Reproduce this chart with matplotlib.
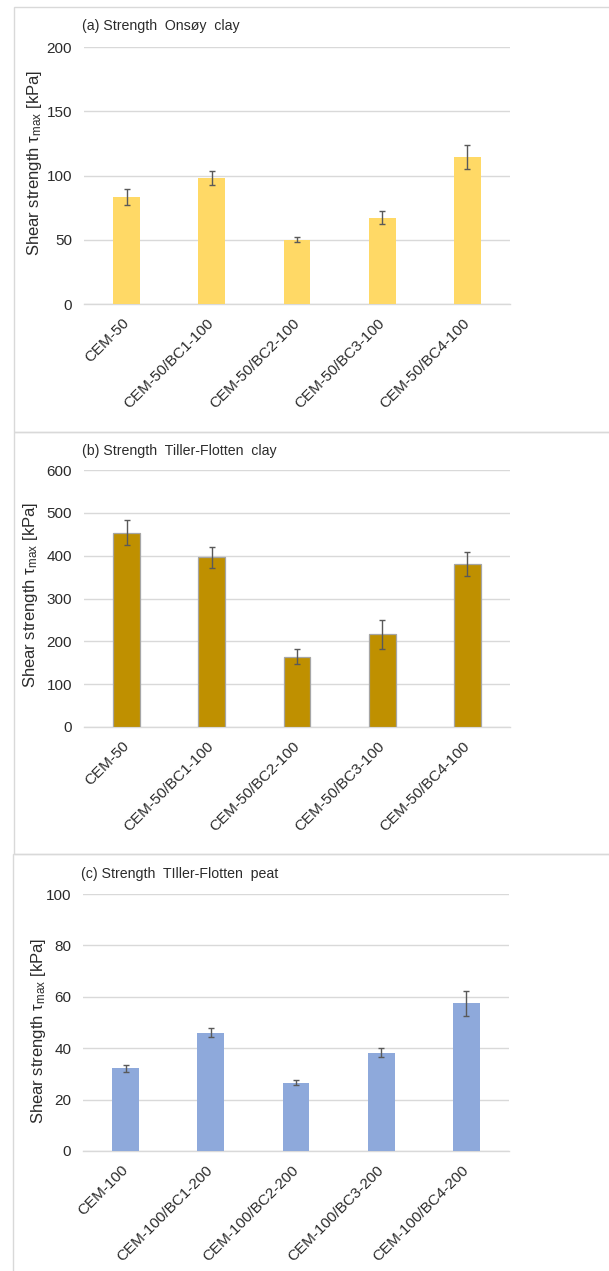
import numpy as np
import matplotlib
matplotlib.use("Agg")
import matplotlib.pyplot as plt
from matplotlib.patches import Rectangle

plt.rcParams['font.family'] = ['Liberation Sans', 'DejaVu Sans']
plt.rcParams['mathtext.default'] = 'regular'

# data
labels_clay = ["CEM-50", "CEM-50/BC1-100", "CEM-50/BC2-100", "CEM-50/BC3-100", "CEM-50/BC4-100"]
labels_peat = ["CEM-100", "CEM-100/BC1-200", "CEM-100/BC2-200", "CEM-100/BC3-200", "CEM-100/BC4-200"]

onsoy_clay = [83.3, 98.1, 50.1, 67.2, 114.4]
onsoy_clay_err = [6.5, 5.6, 2.1, 5.3, 9.0]

tf_clay = [454, 396, 164, 216, 381]
tf_clay_err = [30, 24.5, 17, 34, 28]

tf_peat = [32.2, 46.0, 26.5, 38.3, 57.4]
tf_peat_err = [1.4, 1.7, 1.0, 1.7, 4.8]

titles = ["(a) Strength  Onsøy  clay", "(b) Strength  Tiller-Flotten  clay",
          "(c) Strength  TIller-Flotten  peat"]
ylims = [200, 600, 100]
ysteps = [50, 100, 20]

W, H = 609, 1271
fig = plt.figure(figsize=(W / 100, H / 100), dpi=100)
fig.patch.set_facecolor("white")

TXT = "#2b2b2b"
GRID = "#D9D9D9"


def px_axes(x0, y_top, x1, y_bot):
    return fig.add_axes([x0 / W, 1 - y_bot / H, (x1 - x0) / W, (y_bot - y_top) / H])


def draw_panel(ax, labels, vals, errs, color, edge, ymax, ystep):
    x = np.arange(len(labels))
    ax.bar(x, vals, width=0.313, color=color, edgecolor=edge,
           linewidth=0.9 if edge != "none" else 0, zorder=3)
    ax.errorbar(x, vals, yerr=errs, fmt="none", ecolor="#595959",
                elinewidth=1.0, capsize=2.5, capthick=1.0, zorder=4)
    ax.set_xlim(-0.5, len(labels) - 0.5)
    ax.set_ylim(0, ymax)
    ax.set_yticks(np.arange(0, ymax + 1, ystep))
    ax.yaxis.grid(True, color=GRID, linewidth=1.0, zorder=0)
    ax.set_axisbelow(True)
    for s in ["top", "right", "left"]:
        ax.spines[s].set_visible(False)
    ax.spines["bottom"].set_color(GRID)
    ax.spines["bottom"].set_linewidth(1.0)
    ax.tick_params(axis="both", length=0, labelsize=11, labelcolor=TXT)
    ax.tick_params(axis="y", pad=8.5)
    ax.tick_params(axis="x", pad=12)
    ax.set_xticks(x)
    ax.set_xticklabels(labels, rotation=45, ha="right", va="center",
                       rotation_mode="anchor")


# panel frames
for (x0, y0, x1, y1) in [(14, 7, 640, 432), (14, 432, 640, 854), (13, 854, 640, 1290)]:
    fig.add_artist(Rectangle((x0 / W, 1 - y1 / H), (x1 - x0) / W, (y1 - y0) / H,
                             transform=fig.transFigure, fill=False,
                             edgecolor=GRID, linewidth=1.0))

ax1 = px_axes(84, 47, 510, 304)
draw_panel(ax1, labels_clay, onsoy_clay, onsoy_clay_err, "#FFD966", "none", ylims[0], ysteps[0])

ax2 = px_axes(84, 470, 510, 727)
draw_panel(ax2, labels_clay, tf_clay, tf_clay_err, "#BF9000", "#A5A5A5", ylims[1], ysteps[1])

ax3 = px_axes(83, 894, 509, 1151)
draw_panel(ax3, labels_peat, tf_peat, tf_peat_err, "#8EA9DB", "none", ylims[2], ysteps[2])

# titles
for (tx, ty), t in zip([(82, 26), (82, 451), (81, 874)], titles):
    fig.text(tx / W, 1 - ty / H, t, ha="left", va="center", fontsize=10.2, color=TXT)

# y labels
ylab = "Shear strength τ$_{max}$ [kPa]"
for (lx, ly) in [(35, 163), (31, 595), (39, 1031)]:
    fig.text(lx / W, 1 - ly / H, ylab, ha="center", va="center", rotation=90,
             fontsize=12, color=TXT)

fig.savefig("out.png", dpi=100, facecolor="white")
